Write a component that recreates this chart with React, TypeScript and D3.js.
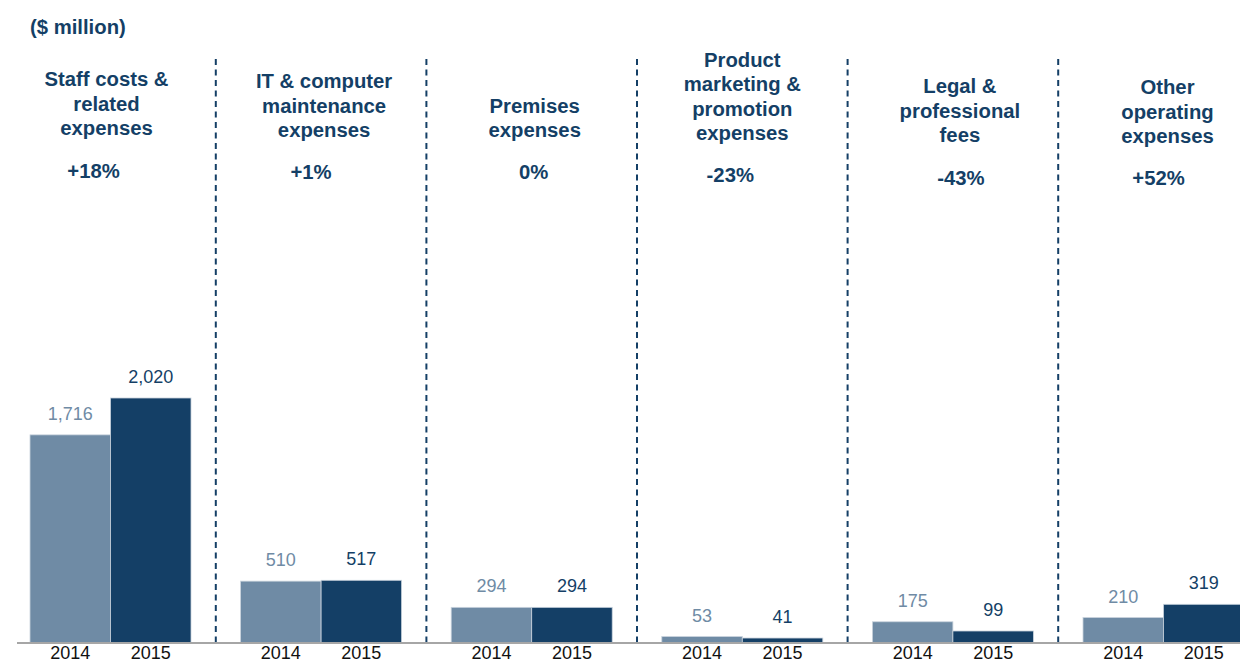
import React from "react";
import * as d3 from "d3";

const categories = [
  "Staff costs & related expenses",
  "IT & computer maintenance expenses",
  "Premises expenses",
  "Product marketing & promotion expenses",
  "Legal & professional fees",
  "Other operating expenses",
];
const titleLines = [
  ["Staff costs &", "related", "expenses"],
  ["IT & computer", "maintenance", "expenses"],
  ["Premises", "expenses"],
  ["Product", "marketing &", "promotion", "expenses"],
  ["Legal &", "professional", "fees"],
  ["Other", "operating", "expenses"],
];
const changes = ["+18%", "+1%", "0%", "-23%", "-43%", "+52%"];
const years = ["2014", "2015"];
const values2014 = [1716, 510, 294, 53, 175, 210];
const values2015 = [2020, 517, 294, 41, 99, 319];
const unitLabel = "($ million)";

// layout (not data)
const W = 1240;
const H = 664;
const BASE_Y = 643;
const titleLastBaseline = [135, 137, 137, 140, 142, 143];
const titleDx = [-4, 3, 3, 0, 7, 4];
const pctBaseline = [178, 179, 179, 182, 185, 185];
const pctDx = [-17, -10, 2, -12, 8, -5];
const LINE_H = 24.5;
const NAVY = "#143f66";
const SLATE = "#6f8ba5";
const FONT = "Liberation Sans, Arial, Helvetica, sans-serif";
const BOLD_SIZE = 20.3;

export default function App() {
  const x = d3
    .scaleBand<string>()
    .domain(categories)
    .range([5.2, 5.2 + 6 * 210.6])
    .paddingInner(0.2355)
    .paddingOuter(0.2355 / 2);
  const xi = d3.scaleBand<string>().domain(years).range([0, x.bandwidth()]).padding(0);
  const y = d3.scaleLinear().domain([0, 2020]).range([BASE_Y, 398]);
  const step = x.step();
  const series = [values2014, values2015];
  const colors = [SLATE, NAVY];

  return (
    <svg
      width={W}
      height={H}
      style={{ position: "absolute", left: 0, top: 0, background: "#fff" }}
      fontFamily={FONT}
    >
      <rect width={W} height={H} fill="#fff" />
      <text x={30} y={34} fontSize={BOLD_SIZE} fontWeight="bold" fill={NAVY}>
        {unitLabel}
      </text>
      {categories.slice(1).map((c) => {
        const dx = (x(c) as number) - (step * 0.2355) / 2;
        return (
          <line
            key={"d" + c}
            x1={dx}
            x2={dx}
            y1={59}
            y2={BASE_Y}
            stroke={NAVY}
            strokeWidth={2}
            strokeDasharray="6,4.5"
          />
        );
      })}
      {categories.map((c, i) => {
        const gx = x(c) as number;
        const cx = gx + x.bandwidth() / 2;
        const lines = titleLines[i];
        return (
          <g key={c}>
            <text textAnchor="middle" fontSize={BOLD_SIZE} fontWeight="bold" fill={NAVY}>
              {lines.map((l, k) => (
                <tspan
                  key={k}
                  x={cx + titleDx[i]}
                  y={titleLastBaseline[i] - (lines.length - 1 - k) * LINE_H}
                >
                  {l}
                </tspan>
              ))}
            </text>
            <text
              x={cx + pctDx[i]}
              y={pctBaseline[i]}
              textAnchor="middle"
              fontSize={BOLD_SIZE}
              fontWeight="bold"
              fill={NAVY}
            >
              {changes[i]}
            </text>
            {years.map((yr, s) => {
              const v = series[s][i];
              const bx = gx + (xi(yr) as number);
              const bw = xi.bandwidth();
              return (
                <g key={yr}>
                  <rect
                    x={bx}
                    y={y(v)}
                    width={bw}
                    height={BASE_Y - y(v)}
                    fill={colors[s]}
                    stroke="#c9d3dd"
                    strokeWidth={0.8}
                  />
                  <text
                    x={bx + bw / 2}
                    y={y(v) - 15}
                    textAnchor="middle"
                    fontSize={18}
                    fill={colors[s]}
                  >
                    {d3.format(",")(v)}
                  </text>
                  <text
                    x={bx + bw / 2}
                    y={659}
                    textAnchor="middle"
                    fontSize={18}
                    fill="#111"
                  >
                    {yr}
                  </text>
                </g>
              );
            })}
          </g>
        );
      })}
      <line x1={17} x2={W} y1={BASE_Y} y2={BASE_Y} stroke="#a6a6a6" strokeWidth={2} />
    </svg>
  );
}
